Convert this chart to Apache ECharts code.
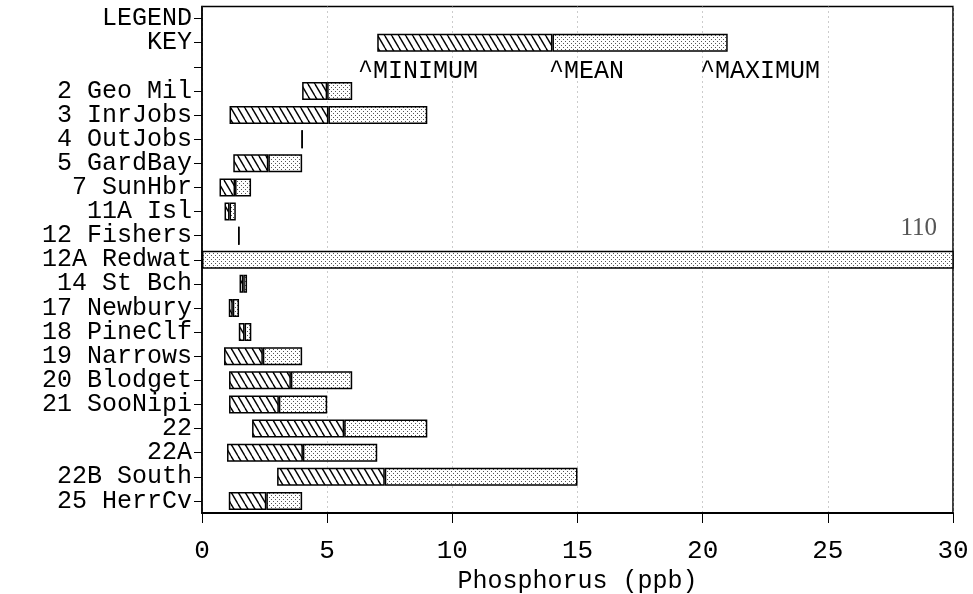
<!DOCTYPE html>
<html><head><meta charset="utf-8">
<script src="https://cdn.jsdelivr.net/npm/echarts@6/dist/echarts.min.js"></script>
<style>html,body{margin:0;padding:0;background:#fff}#c{width:973px;height:594px}</style>
</head><body><div id="c"></div>
<script>
const categories = ['LEGEND','KEY','','2 Geo Mil','3 InrJobs','4 OutJobs','5 GardBay','7 SunHbr','11A Isl','12 Fishers','12A Redwat','14 St Bch','17 Newbury','18 PineClf','19 Narrows','20 Blodget','21 SooNipi','22','22A','22B South','25 HerrCv'];
const minVals  = [null, 7,  null, 4, 1.1,  4, 1.25, 0.7,  0.9,  1.47, null, 1.5,  1.07, 1.47, 0.88, 1.08, 1.08, 2.0,  1.0,  3.0, 1.07];
const meanVals = [null, 14, null, 5, 5.05, 4, 2.65, 1.32, 1.1,  1.47, null, 1.65, 1.23, 1.7,  2.43, 3.55, 3.07, 5.68, 4.03, 7.3, 2.57];
const maxVals  = [null, 21, null, 6, 9,    4, 4,    1.96, 1.35, 1.47, 110,  1.8,  1.48, 1.97, 4.0,  6.0,  5.0,  9.0,  7.0, 15.0, 4.0];
const xTicks = [0, 5, 10, 15, 20, 25, 30];
const keyNotes = ['^MINIMUM', '^MEAN', '^MAXIMUM'];
const xTitle = 'Phosphorus (ppb)';

function hatch(){
  const c=document.createElement('canvas'); c.width=7; c.height=12;
  const g=c.getContext('2d'); g.fillStyle='#fff'; g.fillRect(0,0,7,12);
  g.strokeStyle='#000'; g.lineWidth=1.4;
  for(const o of [-7,0,7]){ g.beginPath(); g.moveTo(o,0); g.lineTo(o+7,12); g.stroke(); }
  return c;
}
function dots(){
  const c=document.createElement('canvas'); c.width=4; c.height=4;
  const g=c.getContext('2d'); g.fillStyle='#fff'; g.fillRect(0,0,4,4);
  g.fillStyle='#555'; g.fillRect(1,1,1,1); g.fillRect(3,3,1,1);
  return c;
}
const offset=[], hatchPart=[], dotPart=[];
for(let i=0;i<categories.length;i++){
  const mx=maxVals[i];
  if(mx==null){offset.push('-');hatchPart.push('-');dotPart.push('-');continue;}
  const mn=minVals[i]==null?0:minVals[i];
  const me=meanVals[i]==null?mn:meanVals[i];
  offset.push(mn); hatchPart.push(+(me-mn).toFixed(3)); dotPart.push(+(mx-me).toFixed(3));
}
const FONT='Liberation Mono';
const chart=echarts.init(document.getElementById('c'),null,{renderer:'canvas'});
const bw=18;
chart.setOption({
  animation:false,
  backgroundColor:'#fff',
  grid:{left:202,right:20,top:6.5,bottom:81,containLabel:false,outerBoundsMode:'none',show:true,borderColor:'#000',borderWidth:1.5,backgroundColor:'transparent'},
  xAxis:{type:'value',min:0,max:30,interval:5,
    name:xTitle,nameLocation:'middle',nameGap:54,
    nameTextStyle:{fontFamily:FONT,fontSize:25,color:'#000'},
    axisLine:{show:true,lineStyle:{color:'#000',width:2}},
    axisTick:{show:true,length:10,lineStyle:{color:'#000',width:1}},
    axisLabel:{fontFamily:FONT,fontSize:26,color:'#000',margin:25,
      formatter:v=>xTicks.includes(v)?String(v):''},
    splitLine:{show:true,lineStyle:{color:'#999',type:[1,4],width:1}}},
  yAxis:{type:'category',data:categories,inverse:true,
    axisLine:{show:true,lineStyle:{color:'#000',width:1.5}},
    axisTick:{show:true,alignWithLabel:true,length:8,lineStyle:{color:'#000'}},
    axisLabel:{fontFamily:FONT,fontSize:25,color:'#000',margin:10,interval:0},
    splitLine:{show:false}},
  series:[
    {type:'bar',stack:'p',data:offset,barWidth:bw,itemStyle:{color:'transparent'},silent:true},
    {type:'bar',stack:'p',data:hatchPart,barWidth:bw,itemStyle:{color:{image:hatch(),repeat:'repeat'},borderColor:'#000',borderWidth:1.5}},
    {type:'bar',stack:'p',data:dotPart,barWidth:bw,itemStyle:{color:{image:dots(),repeat:'repeat'},borderColor:'#000',borderWidth:1.5}}
  ],
  graphic:[
    {type:'text',left:358,top:59,style:{text:keyNotes[0],font:'25px "'+FONT+'"',fill:'#000'}},
    {type:'text',left:549,top:59,style:{text:keyNotes[1],font:'25px "'+FONT+'"',fill:'#000'}},
    {type:'text',left:700,top:59,style:{text:keyNotes[2],font:'25px "'+FONT+'"',fill:'#000'}},
    {type:'text',right:36,top:216,style:{text:String(maxVals[10]),font:'25px "Liberation Serif"',fill:'#555'}}
  ]
});
</script></body></html>
